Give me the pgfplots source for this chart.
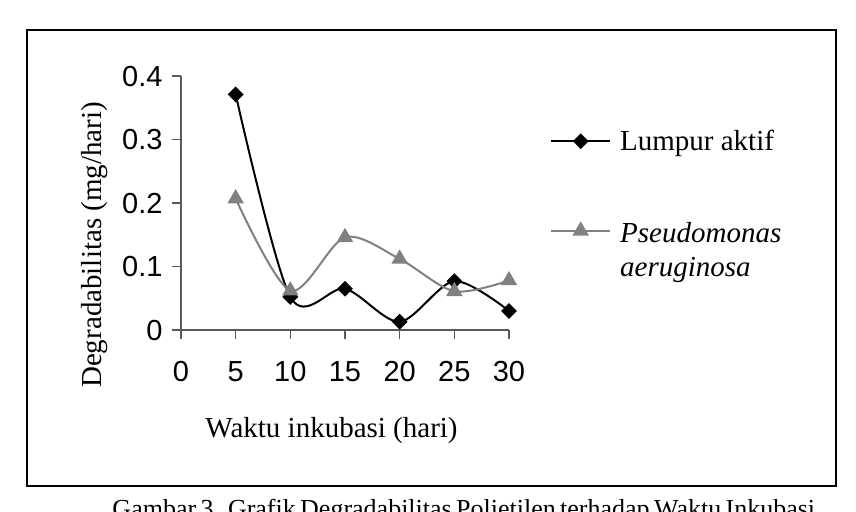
\documentclass[border=0pt]{standalone}
\usepackage{pgfplots}
\pgfplotsset{compat=1.18}
\usetikzlibrary{calc}
\usepackage{fontspec}
\setmainfont{Liberation Serif}
\newfontfamily\arial{Liberation Sans}
\definecolor{pgray}{RGB}{128,128,128}
\definecolor{axgray}{RGB}{90,90,90}
\begin{document}
\begin{tikzpicture}[x=1pt,y=1pt]
\begin{axis}[
  name=ax,
  scale only axis, width=328pt, height=254pt,
  xmin=0, xmax=30, ymin=0, ymax=0.4,
  axis x line*=bottom, axis y line*=left,
  axis line style={-, draw=axgray, line width=1.2pt},
  xtick={0,5,10,15,20,25,30},
  ytick={0,0.1,0.2,0.3,0.4},
  tick align=outside, major tick length=9pt,
  tick style={draw=axgray, line width=1.2pt},
  /pgf/number format/assume math mode=true,
  ticklabel style={font=\arial\fontsize{29}{32}\selectfont, text height=21pt, text depth=1pt},
  yticklabel style={/pgf/number format/fixed, /pgf/number format/precision=1, xshift=-6pt},
  scaled y ticks=false,
  xticklabel style={yshift=-18pt},
  xlabel={Waktu inkubasi (hari)},
  ylabel={Degradabilitas (mg/hari)},
  label style={font=\fontsize{29}{33}\selectfont},
  xlabel style={at={(axis description cs:0.459,0)}, anchor=base, yshift=-107pt},
  ylabel style={at={(axis description cs:-0.241,0.335)}, anchor=base},
  clip=false,
  legend cell align=left,
  legend style={at={(axis description cs:1.125,0.787)}, anchor=north west,
    draw=none, fill=none, inner sep=0pt, row sep=66pt, column sep=9pt,
    font=\fontsize{29}{34}\selectfont,
    nodes={inner sep=0pt}},
  legend image code/.code={\draw[#1, mark repeat=2, mark phase=2] plot coordinates {(0pt,0pt) (29.5pt,0pt) (59pt,0pt)};},
]
\addplot[black, line width=2pt, smooth, tension=0.5, mark=square*, mark size=4.6pt, mark options={rotate=45, solid, fill=black}]
  coordinates {(5,0.371) (10,0.052) (15,0.065) (20,0.013) (25,0.077) (30,0.030)};
\addlegendentry{Lumpur aktif}
\addplot[pgray, line width=2pt, smooth, tension=0.5, mark=triangle*, mark size=7.5pt, mark options={solid, fill=pgray}]
  coordinates {(5,0.207) (10,0.062) (15,0.146) (20,0.112) (25,0.061) (30,0.078)};
\addlegendentry{\begin{tabular}[t]{@{}l@{}}\textit{Pseudomonas}\\\textit{aeruginosa}\end{tabular}}
\end{axis}
\coordinate (O) at ($(ax.origin)+(-181,-181)$);
\pgfresetboundingbox
\path[use as bounding box, clip] (O) rectangle ++(856,511);
\draw[line width=2pt] ($(O)+(27,25)$) rectangle ($(O)+(836,481)$);
\node[anchor=base, inner sep=0pt, font=\fontsize{26}{30}\selectfont] at ($(O)+(456,-6)$) {\makebox[687pt][s]{Gambar 3. Grafik Degradabilitas Polietilen terhadap Waktu Inkubasi}};
\end{tikzpicture}
\end{document}
